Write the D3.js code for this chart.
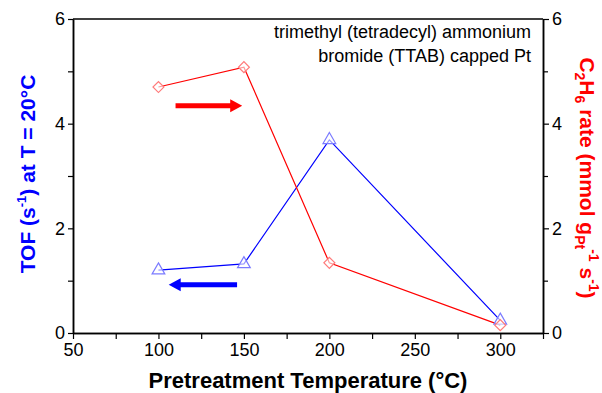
<!DOCTYPE html>
<html>
<head>
<meta charset="utf-8">
<script src="https://cdn.jsdelivr.net/npm/d3@7"></script>
<style>
  body { margin: 0; background: #fff; }
  svg text { font-family: "Liberation Sans", Arial, sans-serif; }
</style>
</head>
<body>
<div id="app"></div>
<script>
// data
const temps = [100, 150, 200, 300];
const tofValues = [1.2, 1.32, 3.69, 0.24];
const c2h6Rates = [4.7, 5.08, 1.34, 0.15];
const xTicks = [50, 100, 150, 200, 250, 300];
const yTicks = [0, 2, 4, 6];
// arrows in data coordinates: [x0, x1, y]
const redArrow = [110, 149, 4.34];
const blueArrow = [146, 106, 0.92];

const W = 602, H = 393;
const m = { left: 73, right: 59, top: 19, bottom: 60 };

const svg = d3.select('#app').append('svg').attr('width', W).attr('height', H);

const x = d3.scaleLinear().domain([50, 325]).range([m.left, W - m.right]);
const yL = d3.scaleLinear().domain([0, 6]).range([H - m.bottom, m.top]);
const yR = d3.scaleLinear().domain([0, 6]).range([H - m.bottom, m.top]);

// frame top line
svg.append('line')
  .attr('x1', x(50)).attr('x2', x(325))
  .attr('y1', yL(6)).attr('y2', yL(6))
  .attr('stroke', '#000').attr('stroke-width', 1.5);

function styleAxis(g) {
  g.selectAll('path').attr('stroke', '#000').attr('stroke-width', 1.5);
  g.selectAll('line').attr('stroke', '#000').attr('stroke-width', 1.2);
  g.selectAll('text').attr('font-size', '18px').attr('fill', '#000')
    .attr('font-family', '"Liberation Sans", Arial, sans-serif');
}

// minor ticks, then major ticks with labels
const gx = svg.append('g').attr('transform', `translate(0,${H - m.bottom})`);
gx.call(d3.axisBottom(x).tickValues(d3.range(75, 326, 50)).tickSize(6).tickFormat('').tickSizeOuter(0));
const gx2 = svg.append('g').attr('transform', `translate(0,${H - m.bottom})`);
gx2.call(d3.axisBottom(x).tickValues(xTicks).tickSize(6).tickPadding(4).tickSizeOuter(0).tickFormat(d3.format('d')));
styleAxis(gx); styleAxis(gx2);

const gyl = svg.append('g').attr('transform', `translate(${m.left},0)`);
gyl.call(d3.axisLeft(yL).tickValues([1, 3, 5]).tickSize(5).tickFormat('').tickSizeOuter(0));
const gyl2 = svg.append('g').attr('transform', `translate(${m.left},0)`);
gyl2.call(d3.axisLeft(yL).tickValues(yTicks).tickSize(5).tickPadding(3).tickSizeOuter(0).tickFormat(d3.format('d')));
styleAxis(gyl); styleAxis(gyl2);

const gyr = svg.append('g').attr('transform', `translate(${W - m.right},0)`);
gyr.call(d3.axisRight(yR).tickValues([1, 3, 5]).tickSize(5).tickFormat('').tickSizeOuter(0));
const gyr2 = svg.append('g').attr('transform', `translate(${W - m.right},0)`);
gyr2.call(d3.axisRight(yR).tickValues(yTicks).tickSize(6).tickPadding(3).tickSizeOuter(0).tickFormat(d3.format('d')));
styleAxis(gyr); styleAxis(gyr2);

// lines
const tofPts = temps.map((t, i) => [t, tofValues[i]]);
const ratePts = temps.map((t, i) => [t, c2h6Rates[i]]);

svg.append('path')
  .attr('d', d3.line().x(d => x(d[0])).y(d => yL(d[1]))(tofPts))
  .attr('fill', 'none').attr('stroke', '#0000ff').attr('stroke-width', 1.2);
svg.append('path')
  .attr('d', d3.line().x(d => x(d[0])).y(d => yR(d[1]))(ratePts))
  .attr('fill', 'none').attr('stroke', '#ff0000').attr('stroke-width', 1.2);

// markers
svg.selectAll('.tri').data(tofPts).enter().append('path')
  .attr('class', 'tri')
  .attr('transform', d => `translate(${x(d[0])},${yL(d[1])})`)
  .attr('d', d3.symbol().type(d3.symbolTriangle).size(70))
  .attr('fill', '#fff').attr('fill-opacity', 0.6)
  .attr('stroke', '#7b7bff').attr('stroke-width', 1.2);
svg.selectAll('.dia').data(ratePts).enter().append('path')
  .attr('class', 'dia')
  .attr('transform', d => `translate(${x(d[0])},${yR(d[1])}) rotate(45)`)
  .attr('d', d3.symbol().type(d3.symbolSquare).size(60))
  .attr('fill', '#fff').attr('fill-opacity', 0.6)
  .attr('stroke', '#ff7b7b').attr('stroke-width', 1.2);

// arrows
function arrow(a, color, yScale) {
  const x0 = x(a[0]), x1 = x(a[1]), yy = yScale(a[2]);
  const dir = Math.sign(x1 - x0);
  const headLen = 12, headHalf = 6.5, shaft = 2.5;
  const xb = x1 - dir * headLen;
  svg.append('path')
    .attr('d', `M${x0},${yy - shaft}L${xb},${yy - shaft}L${xb},${yy - headHalf}L${x1},${yy}` +
      `L${xb},${yy + headHalf}L${xb},${yy + shaft}L${x0},${yy + shaft}Z`)
    .attr('fill', color);
}
arrow(redArrow, '#ff0000', yR);
arrow(blueArrow, '#0000ff', yL);

// annotation
svg.append('text').attr('x', 531).attr('y', 38).attr('text-anchor', 'end')
  .attr('font-size', '18px').attr('fill', '#000')
  .text('trimethyl (tetradecyl) ammonium');
svg.append('text').attr('x', 531).attr('y', 62).attr('text-anchor', 'end')
  .attr('font-size', '18px').attr('fill', '#000')
  .text('bromide (TTAB) capped Pt');

// x title
svg.append('text').attr('x', 308).attr('y', 388).attr('text-anchor', 'middle')
  .attr('font-size', '22px').attr('font-weight', 'bold').attr('fill', '#000')
  .text('Pretreatment Temperature (°C)');

// left title
const lt = svg.append('text')
  .attr('transform', `translate(35,${(m.top + H - m.bottom) / 2 - 2}) rotate(-90)`)
  .attr('text-anchor', 'middle')
  .attr('font-size', '21px').attr('font-weight', 'bold').attr('fill', '#0000ff');
lt.append('tspan').text('TOF (s');
lt.append('tspan').attr('font-size', '13px').attr('dy', -9).text('-1');
lt.append('tspan').attr('dy', 9).text(') at T = 20°C');

// right title
const rt = svg.append('text')
  .attr('transform', `translate(580,${(m.top + H - m.bottom) / 2 + 2}) rotate(90)`)
  .attr('text-anchor', 'middle')
  .attr('font-size', '21px').attr('font-weight', 'bold').attr('fill', '#ff0000');
rt.append('tspan').text('C');
rt.append('tspan').attr('font-size', '14px').attr('dy', 5).text('2');
rt.append('tspan').attr('dy', -5).text('H');
rt.append('tspan').attr('font-size', '14px').attr('dy', 5).text('6');
rt.append('tspan').attr('dy', -5).text(' rate (mmol g');
rt.append('tspan').attr('font-size', '14px').attr('dy', 5).text('Pt');
rt.append('tspan').attr('font-size', '14px').attr('dy', -14).text('-1');
rt.append('tspan').attr('dy', 9).text(' s');
rt.append('tspan').attr('font-size', '14px').attr('dy', -9).text('-1');
rt.append('tspan').attr('dy', 9).text(')');
</script>
</body>
</html>
